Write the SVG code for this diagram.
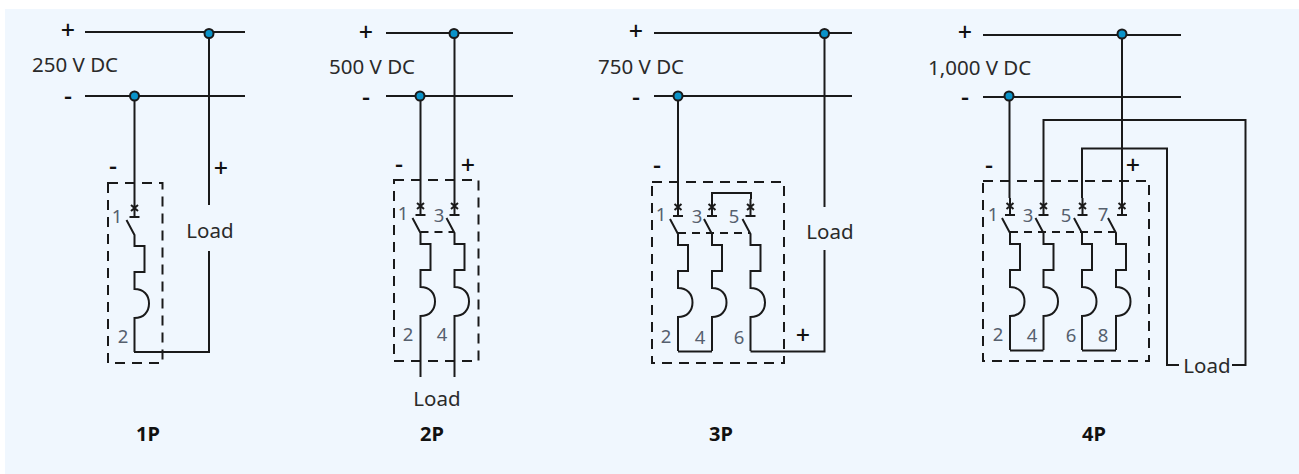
<svg xmlns="http://www.w3.org/2000/svg" width="1299" height="474" viewBox="0 0 1299 474">
<style>
.w{fill:none;stroke:#1a1a1a;stroke-width:2}
.d{fill:none;stroke:#1a1a1a;stroke-width:2;stroke-dasharray:10 7}
.l{fill:none;stroke:#1a1a1a;stroke-width:2;stroke-dasharray:8 6}
.dot{fill:#0a93c9;stroke:#1a1a1a;stroke-width:2}
text{font-family:"Noto Sans","Open Sans","Liberation Sans",sans-serif;fill:#2a2a2a;font-size:20.500px}
.n{fill:#56606e;font-size:18.500px;text-anchor:middle}
.s{font-size:25px;font-weight:500;text-anchor:middle;fill:#111}
.t{font-size:20px;font-weight:700;text-anchor:middle;fill:#111}
.m{text-anchor:middle}
</style>
<defs>
<path id="head" class="w" d="M0 -8V9M-5 9H5M-3.500 -3L3.500 3M3.500 -3L-3.500 3"/>
<path id="body" class="w" d="M-8 12L0 27V38H10V64H0V81C9 81 14.500 87 14.500 95.500C14.500 104 9 110 0 110V144"/>
</defs>
<rect x="5" y="9" width="1294" height="465" fill="#f0f7fe"/>
<g id="connectors">
<path class="w" d="M85 32H245M85 96H245M134.500 96V200M209 33V205M209 251V352H134"/>
<path class="w" d="M386 33H513M386 96H513M420.500 96V198M454.500 33V198M420.500 350V377M454.500 350V377"/>
<path class="w" d="M654 33H852M654 96H852M678 96V199M824.500 33V207M824.500 250V351.500H750.500M678 351.500H712M712 199V193H751V199"/>
<path class="w" d="M983 35H1181M983 97H1181M1009.500 97V198M1122 34V198M1043.500 198V120H1245.500V365H1232M1082 198V148.500H1167V365H1179M1010 350.500H1043.500M1082 350.500H1116"/>
<path class="l" d="M420.500 232H454M678 233H750M1010 232H1116"/>
</g>
<g id="breaker-1p">
<rect class="d" x="108" y="183" width="54.500" height="180"/>
<use href="#head" x="134.500" y="208"/><use href="#body" x="134.500" y="208"/>
<text class="n" x="117" y="223">1</text><text class="n" x="123" y="343">2</text>
</g>
<g id="breaker-2p">
<rect class="d" x="394" y="180" width="84.500" height="181"/>
<use href="#head" x="420.500" y="206"/><use href="#body" x="420.500" y="206"/>
<use href="#head" x="454.500" y="206"/><use href="#body" x="454.500" y="206"/>
<text class="n" x="403" y="220">1</text><text class="n" x="439" y="222">3</text>
<text class="n" x="408" y="341">2</text><text class="n" x="442" y="341">4</text>
</g>
<g id="breaker-3p">
<rect class="d" x="652" y="182" width="132" height="181"/>
<use href="#head" x="678" y="207"/><use href="#body" x="678" y="207"/>
<use href="#head" x="712" y="207"/><use href="#body" x="712" y="207"/>
<use href="#head" x="750.500" y="207"/><use href="#body" x="750.500" y="207"/>
<text class="n" x="661" y="221">1</text><text class="n" x="697" y="223">3</text><text class="n" x="734" y="223">5</text>
<text class="n" x="666" y="343">2</text><text class="n" x="700" y="344">4</text><text class="n" x="739" y="344">6</text>
</g>
<g id="breaker-4p">
<rect class="d" x="983" y="181" width="166" height="180"/>
<use href="#head" x="1010" y="206"/><use href="#body" x="1010" y="206"/>
<use href="#head" x="1043.500" y="206"/><use href="#body" x="1043.500" y="206"/>
<use href="#head" x="1082.500" y="206"/><use href="#body" x="1082" y="206"/>
<use href="#head" x="1122" y="206"/><use href="#body" x="1116" y="206"/>
<text class="n" x="993" y="221">1</text><text class="n" x="1028" y="222">3</text><text class="n" x="1066" y="222">5</text><text class="n" x="1103" y="221">7</text>
<text class="n" x="998" y="341">2</text><text class="n" x="1032" y="342">4</text><text class="n" x="1071" y="342">6</text><text class="n" x="1103" y="342">8</text>
</g>
<g id="junctions">
<circle class="dot" cx="209" cy="33.500" r="4.500"/><circle class="dot" cx="134.500" cy="96" r="4.500"/>
<circle class="dot" cx="454" cy="33.500" r="4.500"/><circle class="dot" cx="420" cy="96" r="4.500"/>
<circle class="dot" cx="824.500" cy="33.500" r="4.500"/><circle class="dot" cx="678" cy="96" r="4.500"/>
<circle class="dot" cx="1122" cy="34" r="4.500"/><circle class="dot" cx="1009" cy="96" r="4.500"/>
</g>
<g id="labels">
<text class="s" x="68" y="39">+</text><text class="s" x="68" y="105">-</text>
<text x="32" y="72">250 V DC</text>
<text class="s" x="113" y="175">-</text><text class="s" x="221" y="177">+</text>
<text class="m" x="210" y="238">Load</text><text class="t" x="148" y="441">1P</text>
<text class="s" x="366" y="41">+</text><text class="s" x="366" y="106">-</text>
<text x="329" y="74">500 V DC</text>
<text class="s" x="399" y="173">-</text><text class="s" x="468" y="174">+</text>
<text class="m" x="437" y="406">Load</text><text class="t" x="432" y="441">2P</text>
<text class="s" x="636" y="40">+</text><text class="s" x="636" y="106">-</text>
<text x="598" y="74">750 V DC</text>
<text class="s" x="657" y="174">-</text><text class="s" x="803" y="344">+</text>
<text class="m" x="830" y="239">Load</text><text class="t" x="721" y="441">3P</text>
<text class="s" x="965" y="41">+</text><text class="s" x="965" y="106">-</text>
<text x="928" y="75">1,000 V DC</text>
<text class="s" x="989" y="174">-</text><text class="s" x="1133" y="174">+</text>
<text class="m" x="1207" y="373">Load</text><text class="t" x="1094" y="441">4P</text>
</g>
</svg>
